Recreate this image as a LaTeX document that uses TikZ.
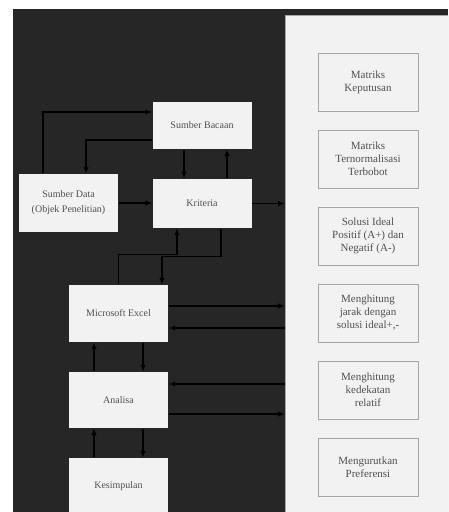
\documentclass[tikz,border=0pt]{standalone}
\usepackage{fontspec}
\setmainfont{Liberation Serif}
\usetikzlibrary{arrows.meta}
\definecolor{bgdark}{HTML}{262626}
\definecolor{boxfill}{HTML}{F2F2F2}
\definecolor{txtgray}{HTML}{505050}
\definecolor{edgegray}{HTML}{A6A6A6}

\begin{document}
\begin{tikzpicture}[
  x=1pt, y=-1pt,
  box/.style={rectangle, fill=boxfill, text=txtgray, minimum width=99pt,
    minimum height=56pt, inner sep=0pt, align=center,
    font=\fontsize{10}{12}\selectfont},
  stepbox/.style={box, draw=edgegray, line width=0.8pt, minimum width=100pt,
    minimum height=58pt, font=\fontsize{11}{13}\selectfont},
  panel/.style={rectangle, fill=boxfill, draw=gray!70, line width=0.8pt,
    minimum width=163pt, minimum height=498pt, inner sep=0pt},
  -{Latex[length=6.5pt,width=5.5pt]}, line width=1.1pt,
]
  \useasboundingbox (0,0) rectangle (448,512);
  \clip (0,0) rectangle (448,512);
  \fill[bgdark] (13,9) rectangle (448,512);
  \node[panel] (pn) at (366.5,264) {};

  \node[box, minimum height=47pt] (sb) at (202,125.5) {Sumber Bacaan};
  \node[box, minimum height=49pt] (kr) at (202,203.5) {Kriteria};
  \node[box, minimum height=58pt] (sd) at (68.5,203) {Sumber Data\\[3pt](Objek Penelitian)};
  \node[box, minimum height=57pt] (ex) at (118.5,313.5) {Microsoft Excel};
  \node[box] (an) at (118.5,400) {Analisa};
  \node[box] (ks) at (118.5,486) {Kesimpulan};

  \foreach \i/\t in {1/{Matriks\\Keputusan},
                     2/{Matriks\\Ternormalisasi\\Terbobot},
                     3/{Solusi Ideal\\Positif (A+) dan\\Negatif (A-)},
                     4/{Menghitung\\jarak dengan\\solusi ideal+,-},
                     5/{Menghitung\\kedekatan\\relatif},
                     6/{Mengurutkan\\Preferensi}} {
    \node[stepbox] (m\i) at (368, 5+77*\i) {\t};
  }

  \draw ([xshift=-25.5pt]sd.north) |- ([yshift=13.5pt]sb.west);
  \draw ([yshift=-14.5pt]sb.west) -| ([xshift=17.5pt]sd.north);
  \draw ([xshift=-18pt]sb.south) -- ([xshift=-18pt]kr.north);
  \draw ([xshift=25pt]kr.north) -- ([xshift=25pt]sb.south);
  \draw (sd.east) -- (sd.east -| kr.west);
  \draw (kr.east) -- (kr.east -| pn.west);

  \draw (ex.north) -- ++(0,-30) -| ([xshift=-25pt]kr.south);
  \draw ([xshift=19pt]kr.south) -- ++(0,28) -| ([xshift=43.5pt]ex.north);

  \draw ([xshift=-24.5pt]an.north) -- ([xshift=-24.5pt]ex.south);
  \draw ([xshift=24.5pt]ex.south) -- ([xshift=24.5pt]an.north);
  \draw ([xshift=-24.5pt]ks.north) -- ([xshift=-24.5pt]an.south);
  \draw ([xshift=24.5pt]an.south) -- ([xshift=24.5pt]ks.north);

  \draw ([yshift=7.5pt]ex.east) -- ([yshift=7.5pt]ex.east -| pn.west);
  \draw ([yshift=-14.5pt]ex.east -| pn.west) -- ([yshift=-14.5pt]ex.east);
  \draw ([yshift=16pt]an.east -| pn.west) -- ([yshift=16pt]an.east);
  \draw ([yshift=-14pt]an.east) -- ([yshift=-14pt]an.east -| pn.west);
\end{tikzpicture}
\end{document}
